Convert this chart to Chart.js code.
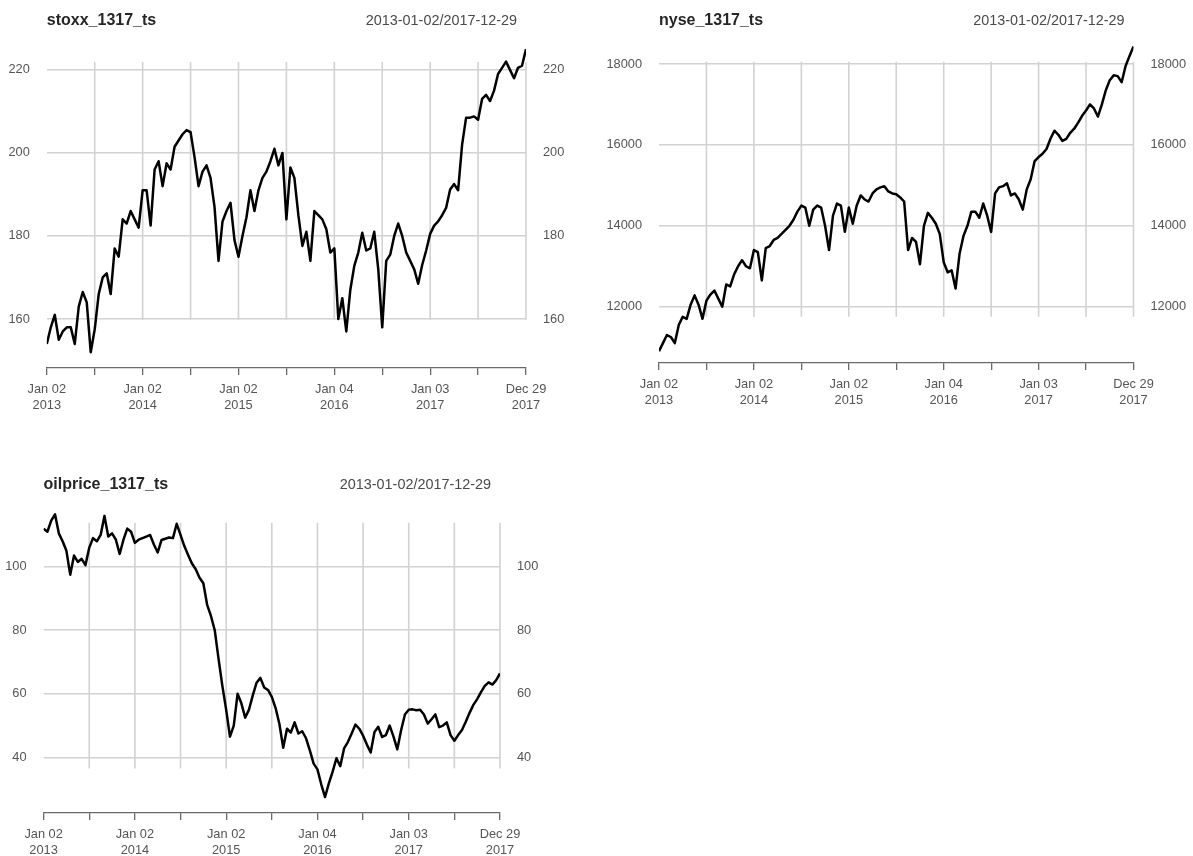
<!DOCTYPE html>
<html>
<head>
<meta charset="utf-8">
<title>stoxx / nyse / oilprice 2013-2017</title>
<script src="https://cdn.jsdelivr.net/npm/chart.js@4.4.1/dist/chart.umd.min.js"></script>
<style>
  html, body { margin: 0; padding: 0; background: #ffffff; }
  #board { position: relative; width: 1193px; height: 856px; overflow: hidden; }
  #board canvas { position: absolute; }
</style>
</head>
<body>
<div id="board">
  <canvas id="stoxxChart" width="596" height="428" style="left:0px;top:0px"></canvas>
  <canvas id="nyseChart" width="597" height="428" style="left:596px;top:0px"></canvas>
  <canvas id="oilChart" width="596" height="428" style="left:0px;top:428px"></canvas>
</div>
<script>
// ---- data -------------------------------------------------------------
// Shared period of the three daily series
const dateRange = '2013-01-02/2017-12-29';

// Observation axis is measured in months from 2013-01-02; one value every half month
const stepMonths = 0.5;

// Tick positions (months) and their labels
const xTickMonths = [0, 6, 12, 18, 24, 30, 36, 42, 48, 54, 60];
const xTickLabels = [
  ['Jan 02', '2013'], '', ['Jan 02', '2014'], '', ['Jan 02', '2015'], '',
  ['Jan 04', '2016'], '', ['Jan 03', '2017'], '', ['Dec 29', '2017']
];

// STOXX index level
const stoxxValues = [
  154, 158, 161, 155, 157, 158, 158, 154, 163, 166.5,
  164, 152, 157.5, 166, 170, 171, 166, 177, 175, 184,
  183, 186, 184, 182, 191, 191, 182.5, 196, 198, 192,
  197.5, 196, 201.5, 203, 204.5, 205.5, 205, 199, 192, 195.5,
  197, 194, 187, 174, 183.5, 186, 188, 179, 175, 180,
  184.5, 191, 186, 191, 194, 195.5, 198, 201, 197, 200,
  184, 196.5, 194, 185, 177.6, 181, 174, 186, 185, 184,
  181.6, 176, 177, 160, 165, 157, 167, 172.8, 176, 180.8,
  176.5, 177, 181, 172, 158, 174, 175.5, 180, 183, 180,
  176, 174, 172, 168.5, 173, 176.5, 180.5, 182.5, 183.5, 185,
  186.8, 191.2, 192.5, 191, 202, 208.5, 208.5, 208.8, 208, 213,
  214, 212.5, 215, 219, 220.5, 222, 220, 218, 220.5, 221,
  225
];

// NYSE composite level
const nyseValues = [
  10900, 11100, 11300, 11250, 11100, 11550, 11750, 11700, 12050, 12280,
  12050, 11700, 12150, 12300, 12400, 12200, 12000, 12550, 12500, 12800,
  13000, 13150, 13000, 12950, 13400, 13350, 12650, 13450, 13500, 13650,
  13700, 13800, 13900, 14000, 14150, 14350, 14500, 14450, 14000, 14400,
  14500, 14450, 14000, 13400, 14250, 14550, 14500, 13850, 14450, 14050,
  14500, 14750, 14650, 14600, 14800, 14900, 14950, 14980, 14850, 14800,
  14780, 14700, 14600, 13400, 13700, 13600, 13050, 14000, 14320, 14200,
  14050, 13800, 13100, 12850, 12900, 12450, 13300, 13750, 14000, 14350,
  14350, 14200, 14550, 14250, 13850, 14800, 14950, 14980, 15050, 14750,
  14800, 14650, 14400, 14900, 15150, 15600, 15700, 15780, 15900, 16150,
  16350, 16250, 16100, 16150, 16300, 16400, 16550, 16720, 16850, 17000,
  16900, 16700, 17000, 17350, 17600, 17720, 17700, 17550, 17950, 18200,
  18430
];

// Crude oil price
const oilValues = [
  112, 111, 114.5, 116.5, 110.5, 108, 105, 97.5, 103.5, 101.5,
  102.5, 100.5, 106, 109, 108, 110, 116, 109.5, 110.5, 108.5,
  104, 108.5, 112, 111, 107.5, 108.5, 109, 109.5, 110, 107,
  104.5, 108.4, 108.8, 109.2, 109, 113.5, 110, 106.5, 103.7, 101,
  99.2, 96.5, 94.8, 88, 84.5, 80, 71, 62.5, 55, 46.5,
  50, 60, 57, 52.5, 55, 59.5, 63.5, 65, 62, 61.2,
  59, 55.5, 50.5, 43, 49, 47.8, 51, 47.5, 48.2, 46,
  42.2, 38, 36.2, 31.5, 27.5, 31.8, 35.5, 39.7, 37.2, 42.8,
  44.8, 47.5, 50.3, 49, 46.8, 44, 41.5, 48, 49.6, 46.4,
  47, 50, 46.5, 42.5, 48.5, 53.5, 55, 55.1, 54.8, 55,
  53.5, 50.6, 52, 53.5, 49.5, 50, 51, 47, 45.2, 47,
  48.6, 51.2, 54, 56.5, 58.3, 60.5, 62.5, 63.6, 62.9, 64.3,
  66.4
];

// Y tick values for each panel
const stoxxTicks = [160, 180, 200, 220];
const nyseTicks = [12000, 14000, 16000, 18000];
const oilTicks = [40, 60, 80, 100];

// ---- styling ----------------------------------------------------------
const FONT = '"Liberation Sans", Arial, Helvetica, sans-serif';
const GRID_COLOR = '#d2d2d2';
const AXIS_COLOR = '#6a6a6a';
const LABEL_COLOR = '#555555';

// ---- panel builder ----------------------------------------------------
function buildPanel(cfg) {
  const canvas = document.getElementById(cfg.canvasId);
  const W = canvas.width, H = canvas.height;
  const f = cfg.frame;
  const points = cfg.values.map((v, i) => ({ x: i * stepMonths, y: v }));

  // vertical grid lines at the period ticks, spanning only the band of the y grid
  const periodGrid = {
    id: 'periodGrid',
    beforeDatasetsDraw(chart) {
      const { ctx, scales } = chart;
      const top = scales.y.getPixelForValue(f.gridTop);
      const bottom = scales.y.getPixelForValue(f.gridBottom);
      ctx.save();
      ctx.strokeStyle = GRID_COLOR;
      ctx.lineWidth = 1.6;
      xTickMonths.slice(1).forEach(m => {
        const px = scales.x.getPixelForValue(m);
        ctx.beginPath();
        ctx.moveTo(px, top);
        ctx.lineTo(px, bottom);
        ctx.stroke();
      });
      ctx.restore();
    }
  };

  // series name at the left, date range at the right
  const panelHeading = {
    id: 'panelHeading',
    afterDraw(chart) {
      const { ctx, chartArea } = chart;
      ctx.save();
      ctx.textBaseline = 'alphabetic';
      ctx.fillStyle = '#262626';
      ctx.font = 'bold 16px ' + FONT;
      ctx.textAlign = 'left';
      ctx.fillText(cfg.name, chartArea.left, f.headingBaseline);
      ctx.fillStyle = '#4a4a4a';
      ctx.font = '14.4px ' + FONT;
      ctx.textAlign = 'right';
      ctx.fillText(dateRange, chartArea.right - 9, f.headingBaseline);
      ctx.restore();
    }
  };

  const yTickOpts = {
    color: LABEL_COLOR,
    font: { family: FONT, size: 12.8 },
    padding: 17,
    callback: v => String(v)
  };

  new Chart(canvas, {
    type: 'line',
    data: {
      datasets: [{
        label: cfg.name,
        data: points,
        xAxisID: 'x',
        yAxisID: 'y',
        borderColor: '#000000',
        borderWidth: 2.5,
        borderJoinStyle: 'round',
        pointRadius: 0,
        tension: 0,
        fill: false
      }]
    },
    options: {
      responsive: false,
      animation: false,
      events: [],
      layout: { padding: { top: f.top, left: 0, right: 0, bottom: 0 } },
      plugins: { legend: { display: false }, tooltip: { enabled: false } },
      scales: {
        x: {
          type: 'linear',
          position: 'bottom',
          min: 0,
          max: 60,
          afterBuildTicks: s => { s.ticks = xTickMonths.map(m => ({ value: m })); },
          afterFit: s => { s.height = H - f.bottom; },
          ticks: {
            autoSkip: false,
            maxRotation: 0,
            minRotation: 0,
            padding: 7,
            color: LABEL_COLOR,
            font: { family: FONT, size: 12.8, lineHeight: 1.2 },
            callback: (v, i) => xTickLabels[i]
          },
          grid: {
            drawOnChartArea: false,
            drawTicks: true,
            tickLength: 7,
            color: AXIS_COLOR,
            lineWidth: 1.3
          },
          border: { display: true, color: AXIS_COLOR, width: 1.3 }
        },
        y: {
          type: 'linear',
          position: 'left',
          min: f.yMin,
          max: f.yMax,
          afterBuildTicks: s => { s.ticks = cfg.yTicks.map(v => ({ value: v })); },
          afterFit: s => { s.width = f.left; },
          ticks: yTickOpts,
          grid: { drawTicks: false, color: GRID_COLOR, lineWidth: 1.6 },
          border: { display: false }
        },
        y2: {
          type: 'linear',
          position: 'right',
          min: f.yMin,
          max: f.yMax,
          afterBuildTicks: s => { s.ticks = cfg.yTicks.map(v => ({ value: v })); },
          afterFit: s => { s.width = W - f.right; },
          ticks: yTickOpts,
          grid: { display: false, drawTicks: false },
          border: { display: false }
        }
      }
    },
    plugins: [periodGrid, panelHeading]
  });
}

buildPanel({
  canvasId: 'stoxxChart',
  name: 'stoxx_1317_ts',
  values: stoxxValues,
  yTicks: stoxxTicks,
  frame: { left: 46.8, right: 526, top: 40, bottom: 368,
           yMin: 148.2, yMax: 227.2, gridTop: 221.9, gridBottom: 159.8,
           headingBaseline: 25 }
});

buildPanel({
  canvasId: 'nyseChart',
  name: 'nyse_1317_ts',
  values: nyseValues,
  yTicks: nyseTicks,
  frame: { left: 63, right: 537.5, top: 40, bottom: 363,
           yMin: 10608, yMax: 18593, gridTop: 18057, gridBottom: 11753,
           headingBaseline: 25 }
});

buildPanel({
  canvasId: 'oilChart',
  name: 'oilprice_1317_ts',
  values: oilValues,
  yTicks: oilTicks,
  frame: { left: 43.6, right: 500, top: 72, bottom: 385,
           yMin: 22.47, yMax: 121.0, gridTop: 113.85, gridBottom: 36.5,
           headingBaseline: 60.5 }
});
</script>
</body>
</html>
